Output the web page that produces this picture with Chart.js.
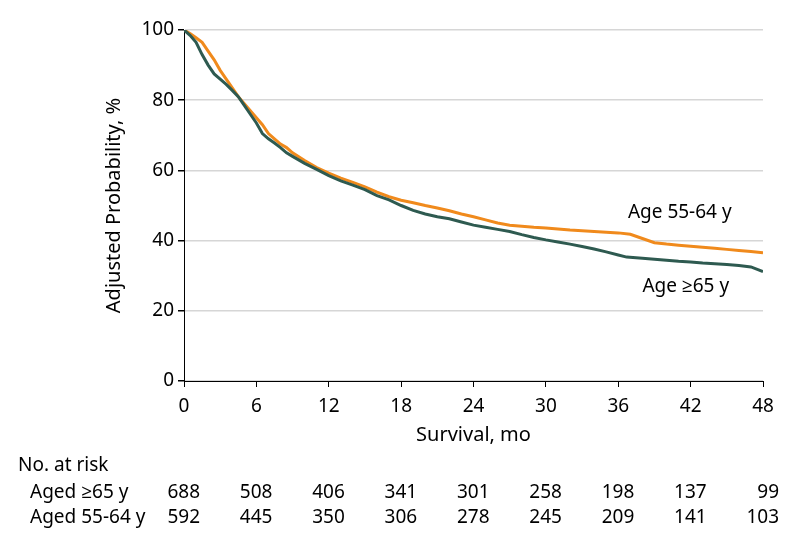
<!DOCTYPE html>
<html>
<head>
<meta charset="utf-8">
<script src="https://cdn.jsdelivr.net/npm/chart.js@4/dist/chart.umd.min.js"></script>
<style>
  html, body { margin: 0; padding: 0; background: #fff; }
  #wrap { width: 798px; height: 546px; }
</style>
</head>
<body>
<div id="wrap"><canvas id="c" width="798" height="546"></canvas></div>
<script>
// ---- Data ----
const monthsYoung = [0,0.5,1,1.5,2,2.5,3,3.5,4,4.5,5,5.5,6,6.5,7,7.5,8,8.5,9,10,11,12,13,14,15,16,17,18,19,20,21,22,23,24,25,26,27,28,29,30,31,32,33,34,35,36,37,38,39,40,41,42,43,44,45,46,47,48];
const survYoung = [100,99,97.8,96.5,94,91.5,88.5,86,83.5,81,79,77,75,73,70.5,69,67.5,66.5,65,62.8,60.8,59.2,57.8,56.6,55.3,53.8,52.5,51.5,50.8,50,49.3,48.5,47.6,46.8,45.9,45,44.4,44.1,43.8,43.6,43.3,43,42.8,42.6,42.4,42.2,41.8,40.6,39.4,39.0,38.7,38.4,38.1,37.8,37.5,37.2,36.9,36.5];

const monthsOld = [0,0.5,1,1.5,2,2.5,3,3.5,4,4.5,5,5.5,6,6.5,7,7.5,8,8.5,9,10,11,12,13,14,15,16,17,18,19,20,21,22,23,24,25,26,27,28,29,30,31,32,33,34,35,36,36.7,38,39,40,41,42,43,44,45,46,47,48];
const survOld = [100,98.5,96.5,93,90,87.5,86,84.5,82.8,81,78.5,76,73.5,70.5,69,67.8,66.5,65,64,62,60.3,58.5,57,55.8,54.5,52.8,51.6,50,48.6,47.6,46.8,46.2,45.3,44.4,43.8,43.2,42.6,41.7,40.9,40.2,39.6,39,38.3,37.6,36.8,35.9,35.3,35,34.7,34.4,34.1,33.9,33.6,33.4,33.2,32.9,32.5,31.2];

const riskMonths = [0,6,12,18,24,30,36,42,48];
const riskOld = [688,508,406,341,301,258,198,137,99];
const riskYoung = [592,445,350,306,278,245,209,141,103];

const seriesNames = ['Age 55-64 y', 'Age \u226565 y'];
const riskRowNames = ['Aged \u226565 y', 'Aged 55-64 y'];

const FONT = "'Noto Sans', 'Open Sans', 'DejaVu Sans', sans-serif";
const ORANGE = '#f08a1c';
const GREEN = '#2e5a50';

const toXY = (xs, ys) => xs.map((x, i) => ({x, y: ys[i]}));

const overlay = {
  id: 'overlay',
  afterDraw(chart) {
    const ctx = chart.ctx;
    const xs = chart.scales.x, ys = chart.scales.y;
    ctx.save();
    ctx.fillStyle = '#000';
    ctx.font = '19px ' + FONT;
    ctx.textBaseline = 'alphabetic';
    // curve labels
    ctx.textAlign = 'left';
    ctx.fillText(seriesNames[0], xs.getPixelForValue(36.8), ys.getPixelForValue(46.4));
    ctx.fillText(seriesNames[1], xs.getPixelForValue(38.0), ys.getPixelForValue(25.4));
    // risk table
    ctx.fillText('No. at risk', 18, 471);
    ctx.fillText(riskRowNames[0], 30, 498);
    ctx.fillText(riskRowNames[1], 30, 523);
    ctx.textAlign = 'right';
    riskMonths.forEach((m, i) => {
      const px = xs.getPixelForValue(m) + 16;
      ctx.fillText(String(riskOld[i]), px, 498);
      ctx.fillText(String(riskYoung[i]), px, 523);
    });
    ctx.restore();
  }
};

new Chart(document.getElementById('c'), {
  type: 'line',
  data: {
    datasets: [
      { label: seriesNames[1], data: toXY(monthsOld, survOld), borderColor: GREEN, borderWidth: 3, pointRadius: 0, fill: false, tension: 0 },
      { label: seriesNames[0], data: toXY(monthsYoung, survYoung), borderColor: ORANGE, borderWidth: 3, pointRadius: 0, fill: false, tension: 0 }
    ]
  },
  options: {
    responsive: false,
    animation: false,
    layout: { padding: { left: 102, top: 30, right: 35, bottom: 95 } },
    plugins: { legend: { display: false }, tooltip: { enabled: false } },
    scales: {
      x: {
        type: 'linear', min: 0, max: 48,
        afterFit(s) { s.height = 70; },
        ticks: { stepSize: 6, color: '#000', font: { family: FONT, size: 19 }, padding: 8, maxRotation: 0 },
        grid: { drawOnChartArea: false, tickColor: '#000', tickLength: 6 },
        border: { display: true, color: '#000', width: 1 },
        title: { display: true, text: 'Survival, mo', color: '#000', font: { family: FONT, size: 20 }, padding: { top: 0, bottom: 4 } }
      },
      y: {
        min: 0, max: 100,
        afterFit(s) { s.width = 82; },
        ticks: { stepSize: 20, color: '#000', font: { family: FONT, size: 19 }, padding: 4 },
        grid: { color: '#d6d6d6', lineWidth: 1.5, tickColor: '#000', tickLength: 6 },
        border: { display: true, color: '#000', width: 1 },
        title: { display: true, text: 'Adjusted Probability, %', color: '#000', font: { family: FONT, size: 20 }, padding: { top: 0, bottom: 0 } }
      }
    }
  },
  plugins: [overlay]
});
</script>
</body>
</html>
